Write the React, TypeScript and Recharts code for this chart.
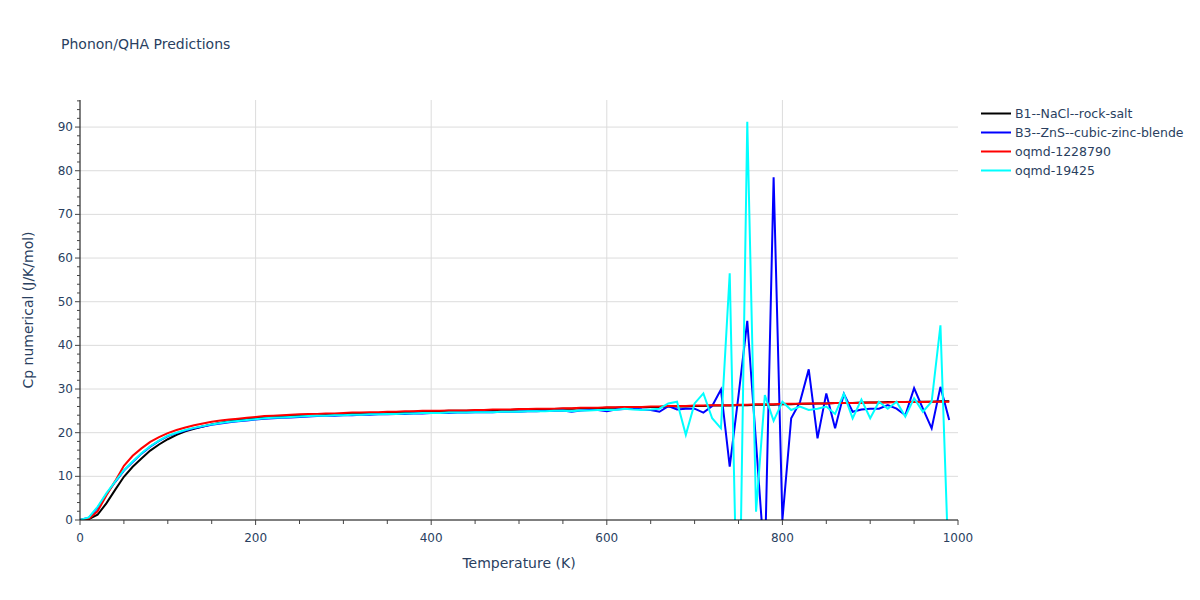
import { CartesianGrid, Label, Legend, Line, LineChart, XAxis, YAxis } from "recharts";

const TEXT = "#2a3f5f";
const FONT = '"DejaVu Sans", Verdana, sans-serif';

const TEMPS = [
  0, 10, 20, 30, 40, 50, 60, 70, 80, 90,
  100, 110, 120, 130, 140, 150, 160, 170, 180, 190,
  200, 210, 220, 230, 240, 250, 260, 270, 280, 290,
  300, 310, 320, 330, 340, 350, 360, 370, 380, 390,
  400, 410, 420, 430, 440, 450, 460, 470, 480, 490,
  500, 510, 520, 530, 540, 550, 560, 570, 580, 590,
  600, 610, 620, 630, 640, 650, 660, 670, 680, 690,
  700, 710, 720, 730, 740, 750, 760, 770, 780, 790,
  800, 810, 820, 830, 840, 850, 860, 870, 880, 890,
  900, 910, 920, 930, 940, 950, 960, 970, 980, 990,
];

const B1_ROCK_SALT = [
  0, 0.2, 1.2, 3.8, 6.9, 9.9, 12.2, 14.1, 15.9, 17.3,
  18.5, 19.5, 20.3, 20.9, 21.4, 21.9, 22.3, 22.6, 22.9, 23.1,
  23.3, 23.5, 23.6, 23.7, 23.8, 23.9, 24.0, 24.1, 24.1, 24.2,
  24.3, 24.3, 24.4, 24.4, 24.5, 24.6, 24.7, 24.7, 24.8, 24.8,
  24.9, 24.9, 25.0, 25.0, 25.0, 25.1, 25.1, 25.2, 25.2, 25.2,
  25.3, 25.3, 25.4, 25.4, 25.4, 25.5, 25.5, 25.6, 25.6, 25.6,
  25.7, 25.7, 25.8, 25.8, 25.8, 25.9, 25.9, 26.0, 26.0, 26.0,
  26.1, 26.1, 26.2, 26.2, 26.2, 26.3, 26.3, 26.4, 26.4, 26.4,
  26.5, 26.5, 26.6, 26.6, 26.7, 26.7, 26.8, 26.8, 26.8, 26.9,
  26.9, 26.9, 27.0, 27.0, 27.0, 27.1, 27.1, 27.1, 27.2, 27.2,
];

const B3_ZINC_BLENDE = [
  0, 0.5, 2.8, 5.9, 8.7, 11.3, 13.3, 15.2, 16.8, 18.1,
  19.2, 19.9, 20.5, 21.0, 21.4, 21.8, 22.1, 22.4, 22.6, 22.8,
  23.0, 23.2, 23.3, 23.4, 23.5, 23.6, 23.7, 23.8, 23.9, 23.9,
  24.0, 24.0, 24.1, 24.1, 24.2, 24.2, 24.3, 24.3, 24.4, 24.4,
  24.5, 24.5, 24.5, 24.6, 24.6, 24.7, 24.7, 24.7, 24.8, 24.8,
  24.8, 24.9, 24.9, 25.0, 25.0, 25.1, 24.8, 25.1, 25.2, 25.2,
  24.9, 25.3, 25.4, 25.6, 25.3, 25.2, 24.8, 26.1, 25.3, 25.5,
  25.5, 24.6, 26.1, 29.9, 12.2, 28.5, 45.6, 17.6, -10.4, 78.5,
  0.0, 23.3, 27.0, 34.5, 18.7, 29.0, 21.0, 28.9, 24.8, 25.3,
  25.5, 25.5, 26.3, 25.5, 24.0, 30.2, 25.5, 21.0, 30.5, 22.9,
];

const OQMD_1228790 = [
  0, 0.3, 2.0, 5.6, 8.9, 12.4, 14.7, 16.4, 17.9, 19.0,
  19.9, 20.6, 21.2, 21.7, 22.1, 22.5, 22.8, 23.0, 23.2, 23.4,
  23.6, 23.8, 23.9, 24.0, 24.1, 24.2, 24.3, 24.3, 24.4, 24.4,
  24.5, 24.6, 24.6, 24.7, 24.7, 24.8, 24.8, 24.9, 24.9, 25.0,
  25.0, 25.0, 25.1, 25.1, 25.1, 25.2, 25.2, 25.3, 25.3, 25.3,
  25.4, 25.4, 25.5, 25.5, 25.5, 25.6, 25.6, 25.7, 25.7, 25.7,
  25.8, 25.8, 25.9, 25.9, 25.9, 26.0, 26.0, 26.1, 26.1, 26.1,
  26.2, 26.2, 26.3, 26.3, 26.3, 26.4, 26.4, 26.5, 26.5, 26.5,
  26.6, 26.6, 26.6, 26.7, 26.7, 26.7, 26.8, 26.8, 26.8, 26.8,
  26.9, 26.9, 26.9, 27.0, 27.0, 27.0, 27.0, 27.1, 27.1, 27.1,
];

const OQMD_19425 = [
  0, 0.6, 3.0, 6.1, 8.8, 11.4, 13.4, 15.3, 16.9, 18.2,
  19.3, 20.0, 20.6, 21.1, 21.5, 21.9, 22.2, 22.5, 22.7, 22.9,
  23.1, 23.3, 23.4, 23.5, 23.6, 23.7, 23.8, 23.9, 23.9, 24.0,
  24.0, 24.1, 24.1, 24.2, 24.2, 24.3, 24.3, 24.4, 24.4, 24.5,
  24.5, 24.5, 24.6, 24.6, 24.6, 24.7, 24.7, 24.7, 24.8, 24.8,
  24.8, 24.9, 24.9, 24.9, 25.0, 25.0, 24.9, 25.1, 25.1, 25.2,
  25.2, 25.2, 25.5, 25.3, 25.2, 25.3, 25.5, 26.7, 27.1, 19.5,
  26.7, 29.0, 23.3, 21.0, 56.5, -37.0, 91.2, 1.9, 28.6, 22.7,
  27.1, 25.2, 26.0, 25.2, 25.5, 26.0, 24.3, 28.9, 23.3, 27.6,
  23.3, 27.1, 25.5, 27.1, 23.7, 27.9, 24.8, 27.1, 44.6, -15.0,
];

const X_TICKS = [0, 50, 100, 150, 200, 250, 300, 350, 400, 450, 500, 550, 600, 650, 700, 750, 800, 850, 900, 950, 1000];
const X_LABELS = [0, 200, 400, 600, 800, 1000];
const Y_TICKS = [
  0, 2, 4, 6, 8, 10, 12, 14, 16, 18, 20, 22, 24, 26, 28, 30, 32, 34, 36, 38, 40, 42, 44, 46, 48,
  50, 52, 54, 56, 58, 60, 62, 64, 66, 68, 70, 72, 74, 76, 78, 80, 82, 84, 86, 88, 90, 92, 94, 96,
];
const Y_LABELS = [0, 10, 20, 30, 40, 50, 60, 70, 80, 90];

const SERIES = [
  { key: "b1", name: "B1--NaCl--rock-salt", color: "#000000", values: B1_ROCK_SALT },
  { key: "b3", name: "B3--ZnS--cubic-zinc-blende", color: "#0000ff", values: B3_ZINC_BLENDE },
  { key: "o1", name: "oqmd-1228790", color: "#ff0000", values: OQMD_1228790 },
  { key: "o2", name: "oqmd-19425", color: "#00ffff", values: OQMD_19425 },
];

const data = TEMPS.map((t, i) => {
  const row: Record<string, number> = { t };
  SERIES.forEach((s) => (row[s.key] = s.values[i]));
  return row;
});

function XTick({ x, y, payload }: any) {
  const major = X_LABELS.includes(payload.value);
  return (
    <g>
      <line x1={x} x2={x} y1={y} y2={y + (major ? 5 : 4)} stroke="#444" />
      {major && (
        <text x={x} y={y + 22} textAnchor="middle" fill={TEXT} fontSize={12}>
          {payload.value}
        </text>
      )}
    </g>
  );
}

function YTick({ x, y, payload }: any) {
  const major = Y_LABELS.includes(payload.value);
  return (
    <g>
      <line x1={x} x2={x - (major ? 5 : 3)} y1={y} y2={y} stroke="#444" />
      {major && (
        <text x={x - 7} y={y + 4} textAnchor="end" fill={TEXT} fontSize={12}>
          {payload.value}
        </text>
      )}
    </g>
  );
}

function LegendBox() {
  return (
    <div style={{ fontFamily: FONT, fontSize: 12.5, color: TEXT }}>
      {SERIES.map((s) => (
        <div key={s.key} style={{ display: "flex", alignItems: "center", height: 19 }}>
          <svg width={36} height={19}>
            <line x1={2} x2={32} y1={9.5} y2={9.5} stroke={s.color} strokeWidth={2} />
          </svg>
          <span>{s.name}</span>
        </div>
      ))}
    </div>
  );
}

export default function App() {
  return (
    <div
      style={{
        position: "absolute",
        left: 0,
        top: 0,
        width: 1200,
        height: 600,
        background: "#fff",
        fontFamily: FONT,
      }}
    >
      <div style={{ position: "absolute", left: 61, top: 36, fontSize: 14, color: TEXT }}>
        Phonon/QHA Predictions
      </div>
      <LineChart
        width={1200}
        height={600}
        data={data}
        margin={{ top: 100, right: 242, left: 10, bottom: 20 }}
      >
        <CartesianGrid
          stroke="#dcdcdc"
          verticalValues={[200, 400, 600, 800]}
          horizontalValues={[10, 20, 30, 40, 50, 60, 70, 80, 90]}
        />
        <XAxis
          dataKey="t"
          type="number"
          domain={[0, 1000]}
          ticks={X_TICKS}
          interval={0}
          height={60}
          tickSize={0}
          tickMargin={0}
          tickLine={false}
          axisLine={{ stroke: "#000" }}
          tick={(p: any) => <XTick {...p} />}
        >
          <Label
            content={({ viewBox }: any) => (
              <text
                x={viewBox.x + viewBox.width / 2}
                y={viewBox.y + 48}
                textAnchor="middle"
                fill={TEXT}
                fontSize={14}
              >
                Temperature (K)
              </text>
            )}
          />
        </XAxis>
        <YAxis
          type="number"
          domain={[0, 96.2]}
          ticks={Y_TICKS}
          interval={0}
          allowDataOverflow
          width={70}
          tickSize={0}
          tickMargin={0}
          tickLine={false}
          axisLine={{ stroke: "#000" }}
          tick={(p: any) => <YTick {...p} />}
        >
          <Label
            content={({ viewBox }: any) => {
              const cx = 28;
              const cy = viewBox.y + viewBox.height / 2;
              return (
                <text
                  x={cx}
                  y={cy}
                  transform={`rotate(-90 ${cx} ${cy})`}
                  textAnchor="middle"
                  dominantBaseline="central"
                  fill={TEXT}
                  fontSize={14}
                >
                  Cp numerical (J/K/mol)
                </text>
              );
            }}
          />
        </YAxis>
        <Legend
          layout="vertical"
          align="center"
          verticalAlign="middle"
          wrapperStyle={{ left: 979, top: 104, width: 220 }}
          content={() => <LegendBox />}
        />
        {SERIES.map((s) => (
          <Line
            key={s.key}
            dataKey={s.key}
            name={s.name}
            type="linear"
            stroke={s.color}
            strokeWidth={2}
            dot={false}
            isAnimationActive={false}
          />
        ))}
      </LineChart>
    </div>
  );
}
